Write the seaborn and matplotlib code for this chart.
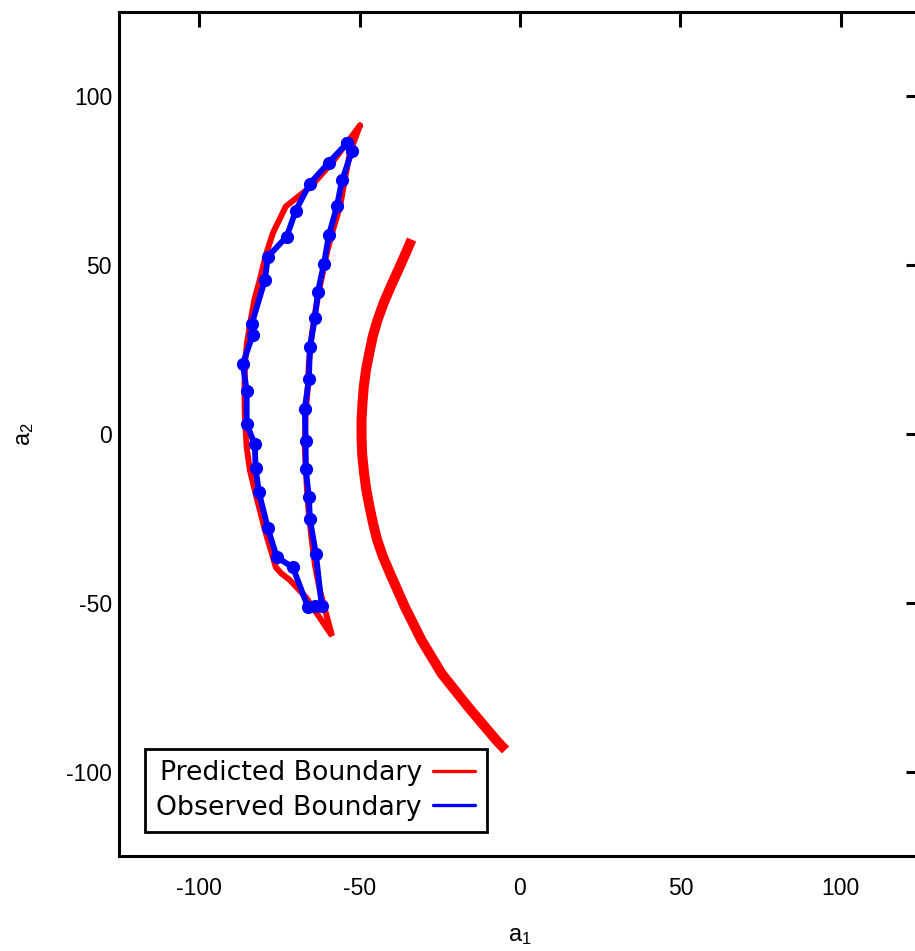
import matplotlib
matplotlib.use("Agg")
import matplotlib.pyplot as plt
import seaborn as sns
import pandas as pd
from matplotlib.lines import Line2D

# Predicted boundary: closed crescent (outer edge down, inner edge back up)
pred_inner_a1 = [-49.9, -58.3, -65.2, -73.0, -77.0, -79.2, -81.1, -82.8, -84.1, -85.1,
                 -85.7, -85.9, -85.8, -85.2, -84.2, -82.7, -79.5, -76.1, -74.5, -71.7,
                 -66.7, -58.6,
                 -62.4, -63.9, -64.9, -65.8, -66.4, -67.1, -66.8, -66.1, -65.8, -64.9,
                 -63.9, -62.4, -60.2, -58.3, -56.1, -54.6, -53.0, -49.9]
pred_inner_a2 = [91.4, 80.7, 73.3, 67.4, 59.6, 53.1, 45.7, 39.8, 32.9, 27.0,
                 21.1, 13.1, 6.2, -3.9, -10.7, -16.6, -28.5, -39.5, -41.2, -43.3,
                 -48.4, -59.8,
                 -46.3, -38.9, -31.5, -24.0, -16.6, -3.9, 6.2, 14.5, 21.1, 29.4,
                 35.9, 43.6, 53.7, 60.5, 67.4, 75.4, 83.4, 91.4]

# Predicted boundary: second (open) branch
pred_outer_a1 = [-33.8, -35.6, -37.9, -40.3, -42.5, -44.4, -45.9, -47.0, -48.0, -48.7,
                 -49.1, -49.4, -49.4, -49.2, -48.6, -47.9, -46.9, -45.8, -44.5, -42.7,
                 -40.5, -35.9, -30.7, -24.4, -16.1, -7.3, -4.5]
pred_outer_a2 = [57.6, 53.6, 48.7, 43.7, 38.8, 33.8, 28.9, 23.9, 19.0, 14.0,
                 9.1, 4.2, -0.8, -6.0, -11.7, -16.6, -21.6, -26.5, -31.5, -36.4,
                 -41.3, -51.2, -61.1, -71.0, -80.9, -90.8, -93.6]

# Observed boundary samples (closed loop)
obs_a1 = [-54.0, -59.6, -65.5, -69.9, -72.7, -78.6, -79.5, -83.6, -83.3, -86.4,
          -85.2, -85.2, -82.7, -82.4, -81.4, -78.6, -75.8, -70.8, -66.1, -63.9,
          -61.8, -63.6, -65.5, -65.8, -66.8, -66.8, -67.1, -65.8, -65.5, -63.9,
          -63.0, -61.1, -59.6, -57.1, -55.5, -52.4, -54.0]
obs_a2 = [86.1, 80.4, 74.2, 66.2, 58.5, 52.5, 45.7, 32.6, 29.4, 20.8,
          12.8, 3.0, -3.0, -10.1, -17.2, -27.9, -36.5, -39.5, -51.3, -51.0,
          -51.0, -35.6, -25.2, -18.7, -10.4, -2.1, 7.4, 16.3, 25.8, 34.4,
          42.1, 50.5, 58.8, 67.4, 75.1, 83.7, 86.1]

x_ticks = [-100, -50, 0, 50, 100]
y_ticks = [-100, -50, 0, 50, 100]
legend_labels = ["Predicted Boundary", "Observed Boundary"]

sns.set_theme(style="white")
plt.rcParams["font.family"] = ["Liberation Sans", "DejaVu Sans"]
plt.rcParams["mathtext.default"] = "regular"

fig = plt.figure(figsize=(9.15, 9.51), dpi=100)
ax = fig.add_axes([119 / 915, 95 / 951, 802 / 915, 844 / 951])

crescent = pd.DataFrame({"a1": pred_inner_a1, "a2": pred_inner_a2})
branch = pd.DataFrame({"a1": pred_outer_a1, "a2": pred_outer_a2})
observed = pd.DataFrame({"a1": obs_a1, "a2": obs_a2})

sns.lineplot(data=crescent, x="a1", y="a2", sort=False, estimator=None,
             color="#ff0000", linewidth=4.3, ax=ax, solid_joinstyle="miter")
sns.lineplot(data=branch, x="a1", y="a2", sort=False, estimator=None,
             color="#ff0000", linewidth=7.2, ax=ax, solid_capstyle="butt",
             solid_joinstyle="round")
sns.lineplot(data=observed, x="a1", y="a2", sort=False, estimator=None,
             color="#0000ff", linewidth=4.2, marker="o", markersize=9.5,
             markeredgewidth=0, ax=ax, solid_joinstyle="round")

ax.set_xlim(-125, 125)
ax.set_ylim(-125, 125)
ax.set_xticks(x_ticks)
ax.set_yticks(y_ticks)
ax.set_xticklabels([str(v) for v in x_ticks])
ax.set_yticklabels([str(v) for v in y_ticks])
ax.tick_params(axis="both", direction="in", length=11, width=2.2, color="black",
               labelsize=16.5, top=True, right=True, labelcolor="black")
ax.tick_params(axis="x", pad=15)
ax.tick_params(axis="y", pad=5)
for s in ax.spines.values():
    s.set_visible(True)
    s.set_color("black")
    s.set_linewidth(2.2)

ax.set_xlabel("a$_1$", fontsize=17, color="black", labelpad=18)
ax.set_ylabel("a$_2$", fontsize=17, color="black", labelpad=22)

handles = [Line2D([], [], color="#ff0000", linewidth=2.4),
           Line2D([], [], color="#0000ff", linewidth=2.4)]
leg = ax.legend(handles, legend_labels, loc="lower left",
                bbox_to_anchor=(26 / 802, 24 / 844), borderaxespad=0,
                markerfirst=False, frameon=True, fancybox=False,
                prop={"family": "DejaVu Sans", "size": 19.3},
                labelcolor="black",
                handlelength=1.6, handletextpad=0.4, labelspacing=0.32,
                borderpad=0.42)
frame = leg.get_frame()
frame.set_edgecolor("black")
frame.set_linewidth(2.0)
frame.set_facecolor("white")
frame.set_alpha(1)

fig.savefig("out.png", dpi=100)
